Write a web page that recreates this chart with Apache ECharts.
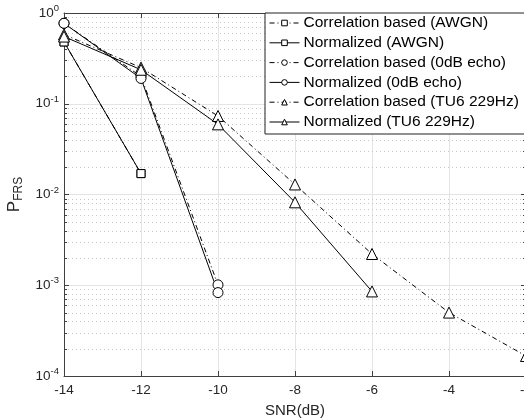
<!DOCTYPE html>
<html>
<head>
<meta charset="utf-8">
<script src="https://cdn.jsdelivr.net/npm/echarts@6/dist/echarts.min.js"></script>
<style>
  html, body { margin: 0; padding: 0; background: #fff; }
  #chart { width: 524px; height: 418px; }
</style>
</head>
<body>
<div id="chart"></div>
<script>
// SNR sweep (dB) and tick layout
const snr = [-14, -12, -10, -8, -6, -4, -2];
const xTicks = [-14, -12, -10, -8, -6, -4, -2];
const yDecades = [-4, -3, -2, -1, 0];

// Frame-recovery failure probability per receiver / channel
const corrAWGN = [0.48, 0.017];
const normAWGN = [0.48, 0.017];
const corrEcho = [0.77, 0.20, 0.00101];
const normEcho = [0.77, 0.19, 0.00083];
const corrTU6 = [0.58, 0.25, 0.0733, 0.0129, 0.00221, 0.0005, 0.000166];
const normTU6 = [0.55, 0.237, 0.0593, 0.0082, 0.000855];

const names = [
  'Correlation based (AWGN)',
  'Normalized (AWGN)',
  'Correlation based (0dB echo)',
  'Normalized (0dB echo)',
  'Correlation based (TU6 229Hz)',
  'Normalized (TU6 229Hz)'
];

const xMin = xTicks[0], xMax = xTicks[xTicks.length - 1];
const yMin = Math.pow(10, yDecades[0]), yMax = Math.pow(10, yDecades[yDecades.length - 1]);

// minor log ticks: 2..9 x 10^k inside each decade
const minorTicks = [];
for (let d = yDecades[0]; d < yDecades[yDecades.length - 1]; d++) {
  for (let m = 2; m <= 9; m++) minorTicks.push([xMin, m * Math.pow(10, d)]);
}

const font = 'Liberation Sans, Arial, sans-serif';
const dashDot = [5, 3, 1, 3];
const ink = '#000';
const axisInk = '#404040';
const labelInk = '#262626';

function pairs(vals) {
  return vals.map((v, i) => [snr[i], v]);
}

function lineSeries(name, vals, symbol, size, dashed) {
  return {
    name: name,
    type: 'line',
    data: pairs(vals),
    symbol: symbol,
    symbolSize: size,
    showSymbol: true,
    color: ink,
    itemStyle: { color: '#fff', borderColor: ink, borderWidth: 1 },
    lineStyle: { color: ink, width: 1, type: dashed ? dashDot : 'solid' },
    emphasis: { disabled: true },
    animation: false,
    z: 5
  };
}

const triangle = 'path://M0,-10 L8.66,5 L-8.66,5 Z';

const chart = echarts.init(document.getElementById('chart'), null, { renderer: 'canvas' });

chart.setOption({
  backgroundColor: '#fff',
  animation: false,
  grid: { left: 64, right: -2, top: 13, bottom: 42, containLabel: false, outerBoundsMode: 'none' },
  legend: {
    data: names,
    orient: 'vertical',
    left: 265,
    top: 13,
    backgroundColor: '#fff',
    borderColor: '#222',
    borderWidth: 1,
    borderRadius: 0,
    padding: [2, 20, 4, 4],
    itemGap: 3.8,
    itemWidth: 30,
    itemHeight: 7,
    lineStyle: { width: 1 },
    itemStyle: { borderWidth: 1 },
    textStyle: { color: '#000', fontSize: 15.5, fontFamily: font, padding: [0, 0, 0, -1] },
    selectedMode: false,
    z: 20
  },
  xAxis: [
    {
      type: 'value',
      min: xMin,
      max: xMax,
      interval: 2,
      name: 'SNR(dB)',
      nameLocation: 'middle',
      nameGap: 27,
      nameTextStyle: { color: labelInk, fontSize: 15, fontFamily: font },
      axisLine: { show: true, onZero: false, lineStyle: { color: axisInk, width: 1 } },
      axisTick: { show: true, inside: true, length: 5, lineStyle: { color: axisInk } },
      axisLabel: {
        color: labelInk, fontSize: 13.5, margin: 7, fontFamily: font,
        showMinLabel: true, showMaxLabel: true
      },
      splitLine: { show: true, lineStyle: { color: '#e4e4e4', width: 1 } }
    },
    {
      type: 'value',
      position: 'top',
      min: xMin,
      max: xMax,
      interval: 2,
      axisLine: { show: true, onZero: false, lineStyle: { color: axisInk, width: 1 } },
      axisTick: { show: true, inside: true, length: 5, lineStyle: { color: axisInk } },
      axisLabel: { show: false },
      splitLine: { show: false }
    }
  ],
  yAxis: [
    {
      type: 'log',
      logBase: 10,
      min: yMin,
      max: yMax,
      name: '{p|P}{s|FRS}',
      nameLocation: 'middle',
      nameGap: 29,
      nameTextStyle: {
        color: labelInk,
        fontFamily: font,
        rich: {
          p: { fontSize: 17, color: labelInk, fontFamily: font },
          s: { fontSize: 12, color: labelInk, fontFamily: font, padding: [8, 0, 0, 0] }
        }
      },
      axisLine: { show: true, onZero: false, lineStyle: { color: axisInk, width: 1 } },
      axisTick: { show: true, inside: true, length: 5, lineStyle: { color: axisInk } },
      axisLabel: {
        margin: 5,
        formatter: function (v) {
          const e = Math.round(Math.log10(v));
          return '{b|10}{e|' + e + '}';
        },
        rich: {
          b: { fontSize: 13.5, color: labelInk, fontFamily: font },
          e: { fontSize: 9.5, color: labelInk, fontFamily: font, padding: [0, 0, 9, 0] }
        }
      },
      splitLine: { show: true, lineStyle: { color: '#e4e4e4', width: 1 } },
      minorTick: { show: false },
      minorSplitLine: { show: false }
    },
    {
      type: 'log',
      logBase: 10,
      position: 'right',
      min: yMin,
      max: yMax,
      axisLine: { show: true, onZero: false, lineStyle: { color: axisInk, width: 1 } },
      axisTick: { show: true, inside: true, length: 5, lineStyle: { color: axisInk } },
      axisLabel: { show: false },
      splitLine: { show: false }
    }
  ],
  series: [
    {
      // dotted minor grid with short inner ticks on both sides
      type: 'custom',
      name: 'minor',
      silent: true,
      z: 1,
      data: minorTicks,
      renderItem: function (params, api) {
        const v = api.value(1);
        const a = api.coord([xMin, v]);
        const b = api.coord([xMax, v]);
        const y = Math.round(a[1]) + 0.5;
        return {
          type: 'group',
          children: [
            { type: 'line', shape: { x1: a[0], y1: y, x2: b[0], y2: y },
              style: { stroke: '#c8c8c8', lineWidth: 1, lineDash: [1, 3] } },
            { type: 'line', shape: { x1: a[0], y1: y, x2: a[0] + 3, y2: y },
              style: { stroke: axisInk, lineWidth: 1 } },
            { type: 'line', shape: { x1: b[0] - 3, y1: y, x2: b[0], y2: y },
              style: { stroke: axisInk, lineWidth: 1 } }
          ]
        };
      }
    },
    lineSeries(names[0], corrAWGN, 'rect', 8, true),
    lineSeries(names[1], normAWGN, 'rect', 8, false),
    lineSeries(names[2], corrEcho, 'circle', 10, true),
    lineSeries(names[3], normEcho, 'circle', 10, false),
    lineSeries(names[4], corrTU6, triangle, 11, true),
    lineSeries(names[5], normTU6, triangle, 11, false)
  ]
});
</script>
</body>
</html>
